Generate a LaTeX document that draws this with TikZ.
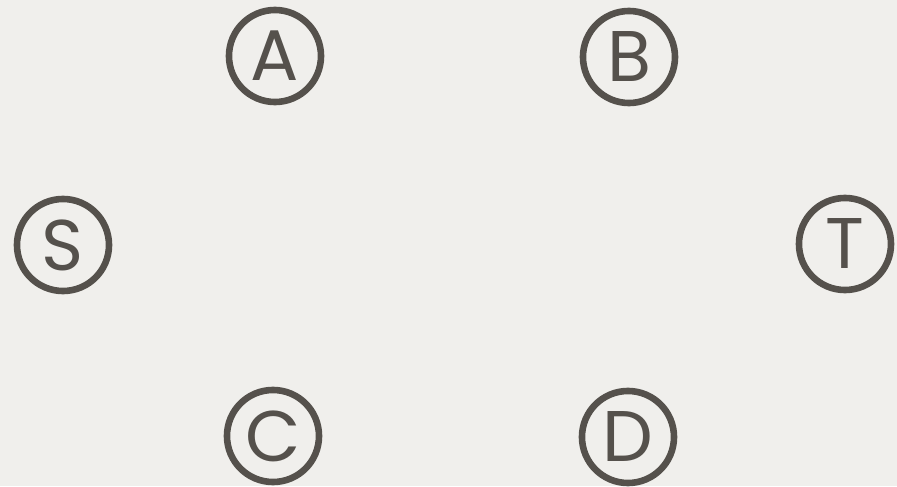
\documentclass[tikz,border=0pt]{standalone}
\usepackage{fontspec}
\setmainfont{Poppins}
\usetikzlibrary{positioning}
\definecolor{paper}{HTML}{F0EFEC}
\definecolor{ink}{HTML}{55514C}

\begin{document}
\begin{tikzpicture}[x=0.025cm,y=-0.025cm,
  vtx/.style={circle,draw=ink,line width=0.165cm,minimum size=2.3cm,inner sep=0pt,
    text=ink,font=\fontsize{51}{51}\selectfont}]
  % paper background
  \fill[paper] (0,0) rectangle (897,486);
  % vertices
  \foreach \n/\x/\y in {A/275/56,B/629/57,S/63/245,T/845/244,C/273/436,D/628/437} {
    \node[vtx] (\n) at (\x,\y) {\n};
  }
\end{tikzpicture}
\end{document}
